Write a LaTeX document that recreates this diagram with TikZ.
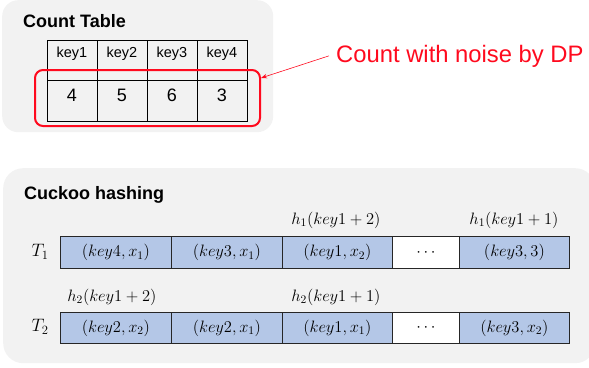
\RequirePackage{fix-cm}
\documentclass[tikz,border=0pt]{standalone}
\usepackage[no-math]{fontspec}
\setmainfont{Liberation Sans}
\usetikzlibrary{arrows.meta}
\definecolor{panelgray}{HTML}{F2F2F2}
\definecolor{cellblue}{HTML}{B4C7E7}
\definecolor{dpred}{HTML}{FF0A1E}
\begin{document}
\begin{tikzpicture}[x=1pt,y=-1pt,
  panel/.style={fill=panelgray, draw=none, rounded corners=16pt},
  titletext/.style={anchor=base west, inner sep=0pt, font=\fontsize{18}{20}\selectfont\bfseries},
  kcell/.style={draw=black, line width=0.7pt, minimum width=50pt, anchor=north west, inner sep=0pt},
  ktext/.style={inner sep=0pt, font=\fontsize{14.5}{16}\selectfont},
  vtext/.style={inner sep=0pt, font=\fontsize{18}{20}\selectfont},
  ccell/.style={draw=black!85, fill=cellblue, line width=0.8pt, anchor=north west, inner sep=0pt, font=\fontsize{16.5}{18}\selectfont},
  ecell/.style={ccell, fill=white},
  mlabel/.style={inner sep=0pt, font=\fontsize{16.5}{18}\selectfont},
  tlabel/.style={inner sep=0pt, font=\fontsize{18}{20}\selectfont},
  highlight/.style={draw=dpred, line width=2pt, rounded corners=8pt, inner sep=0pt},
]
\useasboundingbox (0,0) rectangle (589,367);
\clip (0,0) rectangle (589,367);

% panels
\node[panel, anchor=north west, minimum width=271pt, minimum height=132pt] (p1) at (2,0) {};
\node[panel, anchor=north west, minimum width=592pt, minimum height=195pt, rounded corners=20pt] (p2) at (3,168) {};

% titles
\node[titletext] (t1) at (23,27) {Count Table};
\node[titletext] (t2) at (24,199) {Cuckoo hashing};

% count table
\node[kcell, minimum height=40pt] (h1) at (47,40) {};
\node[kcell, minimum height=40pt] (h2) at (97,40) {};
\node[kcell, minimum height=40pt] (h3) at (147,40) {};
\node[kcell, minimum height=40pt] (h4) at (197,40) {};
\node[kcell, minimum height=41pt] (v1) at (47,80) {};
\node[kcell, minimum height=41pt] (v2) at (97,80) {};
\node[kcell, minimum height=41pt] (v3) at (147,80) {};
\node[kcell, minimum height=41pt] (v4) at (197,80) {};
\node[ktext] (k1) at (72,54) {key1};
\node[ktext] (k2) at (122,54) {key2};
\node[ktext] (k3) at (172,54) {key3};
\node[ktext] (k4) at (222,54) {key4};
\node[vtext] (n1) at (72,95) {4};
\node[vtext] (n2) at (122,95) {5};
\node[vtext] (n3) at (172,95) {6};
\node[vtext] (n4) at (222,95) {3};

% highlight and annotation
\node[highlight, minimum width=225pt, minimum height=56pt] (hl) at (147.5,98) {};
\node[anchor=base west, inner sep=0pt, text=dpred, font=\fontsize{23.8}{26}\selectfont] (dp) at (336,62) {Count with noise by DP};
\draw[dpred, line width=0.6pt, -{Stealth[length=6pt,width=4.5pt]}] ([xshift=-7pt]dp.west) -- (hl.10.6);

% cuckoo row T1
\node[tlabel] (T1) at (40,252) {$T_1$};
\node[ccell, minimum width=111pt, minimum height=32pt] (a1) at (60,236) {$(key4,x_1)$};
\node[ccell, minimum width=111pt, minimum height=32pt] (a2) at (171,236) {$(key3,x_1)$};
\node[ccell, minimum width=110pt, minimum height=32pt] (a3) at (282,236) {$(key1,x_2)$};
\node[ecell, minimum width=67pt, minimum height=32pt] (a4) at (392,236) {$\cdots$};
\node[ccell, minimum width=110pt, minimum height=32pt] (a5) at (459,236) {$(key3,3)$};
\node[mlabel] (la3) at (336,220) {$h_1(key1+2)$};
\node[mlabel] (la5) at (514,220) {$h_1(key1+1)$};

% cuckoo row T2
\node[tlabel] (T2) at (40,327) {$T_2$};
\node[ccell, minimum width=111pt, minimum height=31pt] (b1) at (60,312) {$(key2,x_2)$};
\node[ccell, minimum width=111pt, minimum height=31pt] (b2) at (171,312) {$(key2,x_1)$};
\node[ccell, minimum width=110pt, minimum height=31pt] (b3) at (282,312) {$(key1,x_1)$};
\node[ecell, minimum width=67pt, minimum height=31pt] (b4) at (392,312) {$\cdots$};
\node[ccell, minimum width=110pt, minimum height=31pt] (b5) at (459,312) {$(key3,x_2)$};
\node[mlabel] (lb1) at (112,297) {$h_2(key1+2)$};
\node[mlabel] (lb3) at (336,297) {$h_2(key1+1)$};
\end{tikzpicture}
\end{document}
